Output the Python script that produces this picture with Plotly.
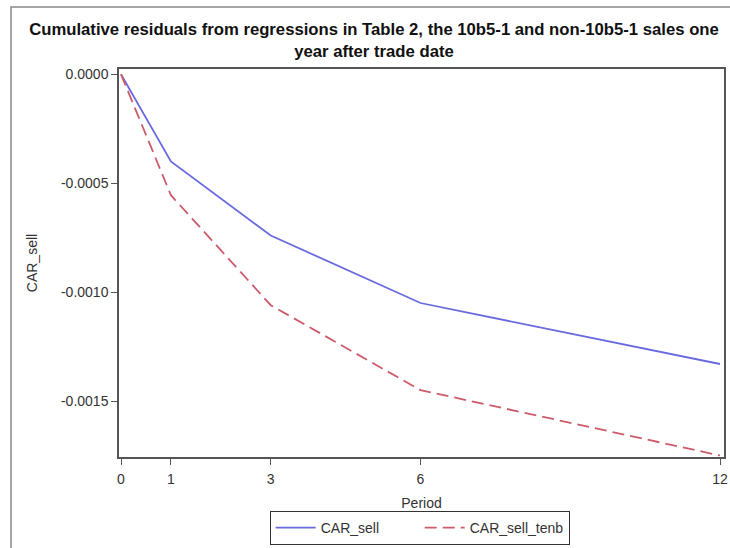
import plotly.graph_objects as go

periods = [0, 1, 3, 6, 12]
car_sell = [0.0, -0.00040, -0.00074, -0.00105, -0.00133]
car_sell_tenb = [0.0, -0.000555, -0.00106, -0.00145, -0.00175]
x_ticks = [0, 1, 3, 6, 12]
y_ticks = [0.0, -0.0005, -0.0010, -0.0015]
y_tick_labels = ["0.0000", "-0.0005", "-0.0010", "-0.0015"]

title_text = ("<b>Cumulative residuals from regressions in Table 2, the 10b5-1 and non-10b5-1 sales one"
              "<br>year after trade date</b>")

font_family = "Liberation Sans, Arial, sans-serif"

fig = go.Figure()
fig.add_trace(go.Scatter(x=periods, y=car_sell, mode="lines", name="CAR_sell",
                         line=dict(color="#6a6ae0", width=1.8)))
fig.add_trace(go.Scatter(x=periods, y=car_sell_tenb, mode="lines", name="CAR_sell_tenb",
                         line=dict(color="#cc5b6b", width=1.8, dash="12px,6px")))

axis_common = dict(showgrid=False, zeroline=False, showline=True, mirror=True,
                   linecolor="#555555", linewidth=1.5, ticks="outside", ticklen=6,
                   tickcolor="#555555", tickwidth=1.2, automargin=False,
                   tickfont=dict(family=font_family, size=14, color="#333333"))

fig.update_layout(
    width=730, height=548,
    margin=dict(l=119, r=6, t=69, b=91, autoexpand=False),
    paper_bgcolor="white", plot_bgcolor="white",
    font=dict(family=font_family, color="#222222"),
    title=dict(text=title_text, x=374 / 730, xanchor="center", xref="container",
               y=1 - 35 / 548, yanchor="middle", yref="container",
               font=dict(family=font_family, size=16.7, color="#111111")),
    xaxis=dict(range=[-0.04, 12.08], tickvals=x_ticks, ticktext=[str(v) for v in x_ticks],
               ticklabelstandoff=2,
               title=dict(text="Period", font=dict(family=font_family, size=14, color="#333333"), standoff=21),
               **axis_common),
    yaxis=dict(range=[-0.001757, 0.0000244], tickvals=y_ticks, ticktext=y_tick_labels,
               title=dict(text="CAR_sell", font=dict(family=font_family, size=14, color="#333333"), standoff=20),
               **axis_common),
    showlegend=True,
    legend=dict(orientation="h", x=0.497, xanchor="center", xref="paper",
                y=1 - 528 / 548, yanchor="middle", yref="container",
                bordercolor="#333333", borderwidth=1, bgcolor="white",
                font=dict(family=font_family, size=14, color="#333333"),
                itemwidth=40, tracegroupgap=0, entrywidth=94),
    shapes=[dict(type="rect", xref="paper", yref="paper",
                 x0=(11 - 119) / 605, x1=1.2, y0=-0.5, y1=(457 - 7) / 388,
                 line=dict(color="#888888", width=1.5), layer="below")],
)

fig.write_html("out.html")
